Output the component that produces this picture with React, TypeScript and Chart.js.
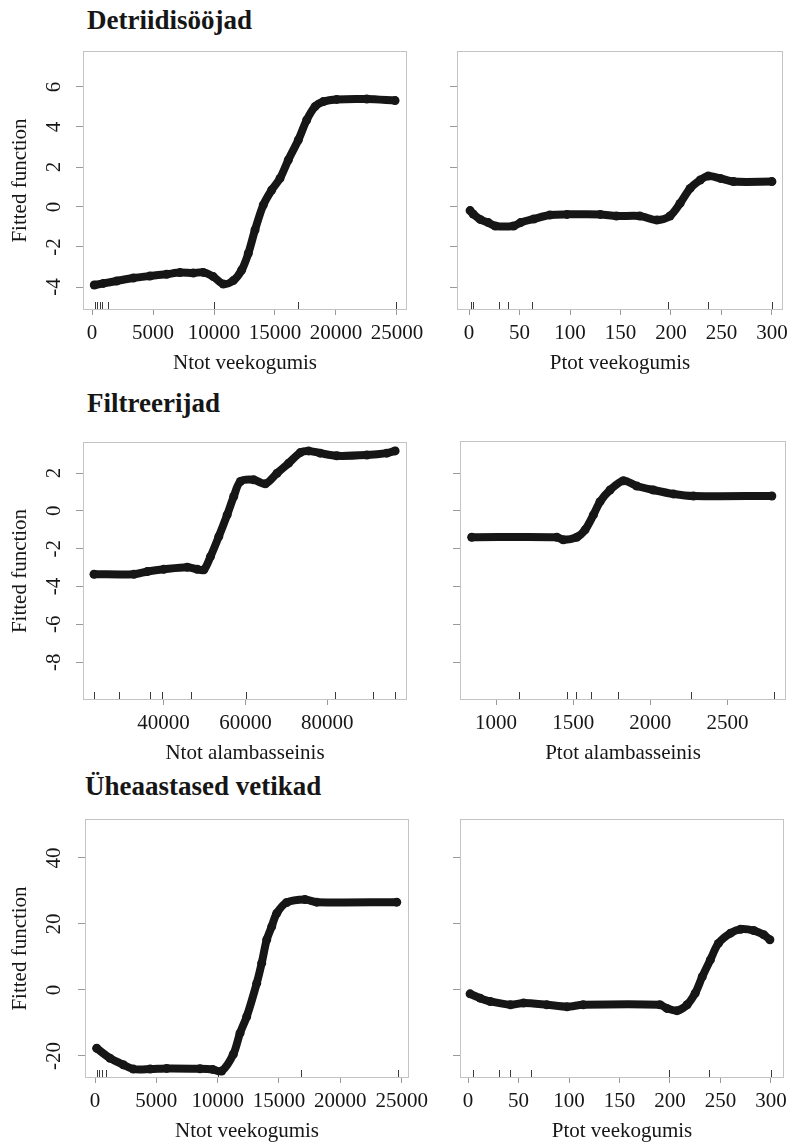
import React, { useEffect, useRef } from "react";
import { Chart, registerables } from "chart.js";

Chart.register(...registerables);

const FONT = '"Liberation Serif", "Times New Roman", Times, serif';
const INK = "#161616";
const BOX = "#c4c4c4";
const TICK = "#9a9a9a";
const RUG = "#3a3a3a";

// ---------- Section titles ----------
const sectionTitles = ["Detriidisööjad", "Filtreerijad", "Üheaastased vetikad"];

// ---------- Axis titles ----------
const yTitle = "Fitted function";
const xTitles = [
  "Ntot veekogumis",
  "Ptot veekogumis",
  "Ntot alambasseinis",
  "Ptot alambasseinis",
  "Ntot veekogumis",
  "Ptot veekogumis",
];

// ---------- Tick values ----------
const ticksNtotVee = [0, 5000, 10000, 15000, 20000, 25000];
const ticksPtotVee = [0, 50, 100, 150, 200, 250, 300];
const ticksNtotAlam = [40000, 60000, 80000];
const ticksPtotAlam = [1000, 1500, 2000, 2500];
const ticksYDetr = [-4, -2, 0, 2, 4, 6];
const ticksYFilt = [-8, -6, -4, -2, 0, 2];
const ticksYVet = [-20, 0, 20, 40];

// ---------- Panel 1: Detriidisööjad ~ Ntot veekogumis ----------
const detNtotX = [190, 930, 2020, 3390, 4750, 6120, 7210, 8300, 9120, 9940, 10760, 11580, 12270, 12810, 13360, 14040, 14730, 15410, 16090, 16910, 17600, 18280, 18960, 20060, 22520, 24840];
const detNtotY = [-3.9, -3.82, -3.7, -3.55, -3.45, -3.36, -3.28, -3.3, -3.27, -3.48, -3.85, -3.68, -3.15, -2.32, -1.15, 0.1, 0.85, 1.43, 2.35, 3.35, 4.35, 5.02, 5.27, 5.38, 5.4, 5.32];
const detNtotRug = [250, 430, 660, 850, 1350, 10000, 16900, 24900];

// ---------- Panel 2: Detriidisööjad ~ Ptot veekogumis ----------
const detPtotX = [1, 4, 11, 19, 26, 44, 51, 64, 80, 97, 130, 146, 169, 186, 199, 209, 219, 229, 237, 249, 262, 300];
const detPtotY = [-0.18, -0.35, -0.62, -0.78, -0.95, -0.95, -0.78, -0.6, -0.4, -0.37, -0.37, -0.45, -0.45, -0.65, -0.45, 0.18, 0.93, 1.35, 1.55, 1.43, 1.27, 1.27];
const detPtotRug = [2, 4, 30, 39, 62, 197, 237, 300];

// ---------- Panel 3: Filtreerijad ~ Ntot alambasseinis ----------
const filNtotX = [23000, 32760, 36020, 40070, 45780, 48220, 49830, 51460, 53490, 55540, 57150, 58780, 62030, 64880, 67730, 70570, 73410, 75440, 78290, 82360, 89680, 94560, 96590];
const filNtotY = [-3.35, -3.35, -3.21, -3.09, -2.98, -3.09, -3.12, -2.42, -1.36, -0.21, 0.76, 1.55, 1.64, 1.43, 1.99, 2.52, 3.08, 3.17, 3.05, 2.91, 2.95, 3.05, 3.17];
const filNtotRug = [23000, 29000, 36700, 39500, 46800, 60200, 82000, 91100, 96500];

// ---------- Panel 4: Filtreerijad ~ Ptot alambasseinis ----------
const filPtotX = [842, 1394, 1436, 1523, 1577, 1631, 1674, 1739, 1826, 1912, 2020, 2150, 2280, 2788];
const filPtotY = [-1.39, -1.39, -1.53, -1.39, -1.0, -0.21, 0.49, 1.11, 1.6, 1.32, 1.11, 0.9, 0.79, 0.79];
const filPtotRug = [1150, 1460, 1520, 1615, 1790, 2265, 2800];

// ---------- Panel 5: Üheaastased vetikad ~ Ntot veekogumis ----------
const vetNtotX = [139, 1223, 2307, 3123, 4500, 5846, 8561, 9600, 10330, 11276, 11822, 12368, 13184, 13590, 13999, 14407, 14815, 15630, 17122, 18076, 24598];
const vetNtotY = [-17.7, -20.7, -22.7, -24.0, -24.0, -23.8, -23.9, -24.1, -24.6, -19.5, -13.1, -8.1, 2.0, 8.1, 15.2, 19.2, 23.2, 26.5, 27.4, 26.6, 26.6];
const vetNtotRug = [150, 350, 560, 880, 10000, 16800, 24700];

// ---------- Panel 6: Üheaastased vetikad ~ Ptot veekogumis ----------
const vetPtotX = [2, 12, 22, 42, 55, 78, 98, 114, 190, 197, 207, 217, 225, 232, 240, 248, 260, 270, 283, 293, 299];
const vetPtotY = [-1.2, -2.5, -3.5, -4.5, -4.0, -4.5, -5.1, -4.5, -4.5, -5.6, -6.3, -4.5, -1.0, 4.0, 9.1, 14.1, 17.2, 18.4, 18.0, 16.7, 15.2];
const vetPtotRug = [5, 31, 42, 62, 199, 239, 300];

type PanelCfg = {
  left: number;
  top: number;
  width: number;
  height: number;
  padTop: number;
  padRight: number;
  yWidth: number;
  xs: number[];
  ys: number[];
  rug: number[];
  xTicks: number[];
  yTicks: number[];
  xMin: number;
  xMax: number;
  yMin: number;
  yMax: number;
  xTitle: string;
  showY: boolean;
};

const panels: PanelCfg[] = [
  { left: 0, top: 40, width: 440, height: 340, padTop: 11, padRight: 33, yWidth: 83, xs: detNtotX, ys: detNtotY, rug: detNtotRug, xTicks: ticksNtotVee, yTicks: ticksYDetr, xMin: -738, xMax: 25820, yMin: -5.15, yMax: 7.8, xTitle: xTitles[0], showY: true },
  { left: 420, top: 40, width: 400, height: 340, padTop: 11, padRight: 37, yWidth: 37, xs: detPtotX, ys: detPtotY, rug: detPtotRug, xTicks: ticksPtotVee, yTicks: ticksYDetr, xMin: -12, xMax: 311, yMin: -5.15, yMax: 7.8, xTitle: xTitles[1], showY: false },
  { left: 0, top: 430, width: 440, height: 340, padTop: 12, padRight: 33, yWidth: 83, xs: filNtotX, ys: filNtotY, rug: filNtotRug, xTicks: ticksNtotAlam, yTicks: ticksYFilt, xMin: 20300, xMax: 99500, yMin: -10.0, yMax: 3.64, xTitle: xTitles[2], showY: true },
  { left: 420, top: 430, width: 400, height: 340, padTop: 11, padRight: 34, yWidth: 40, xs: filPtotX, ys: filPtotY, rug: filPtotRug, xTicks: ticksPtotAlam, yTicks: ticksYFilt, xMin: 766, xMax: 2880, yMin: -10.0, yMax: 3.7, xTitle: xTitles[3], showY: false },
  { left: 0, top: 808, width: 440, height: 340, padTop: 11, padRight: 31, yWidth: 85, xs: vetNtotX, ys: vetNtotY, rug: vetNtotRug, xTicks: ticksNtotVee, yTicks: ticksYVet, xMin: -816, xMax: 25600, yMin: -26.7, yMax: 51.8, xTitle: xTitles[4], showY: true },
  { left: 420, top: 808, width: 400, height: 340, padTop: 11, padRight: 36, yWidth: 40, xs: vetPtotX, ys: vetPtotY, rug: vetPtotRug, xTicks: ticksPtotVee, yTicks: ticksYVet, xMin: -8, xMax: 313, yMin: -26.7, yMax: 51.8, xTitle: xTitles[5], showY: false },
];

const decorPlugin = {
  id: "decor",
  beforeDatasetsDraw(chart: any, _args: any, opts: any) {
    const { ctx, chartArea } = chart;
    ctx.save();
    ctx.strokeStyle = BOX;
    ctx.lineWidth = 1;
    ctx.strokeRect(
      Math.round(chartArea.left) + 0.5,
      Math.round(chartArea.top) + 0.5,
      Math.round(chartArea.right - chartArea.left) - 1,
      Math.round(chartArea.bottom - chartArea.top) - 1
    );
    // rug marks
    const xs = chart.scales.x;
    ctx.strokeStyle = RUG;
    ctx.beginPath();
    (opts.rug || []).forEach((v: number) => {
      const px = Math.round(xs.getPixelForValue(v)) + 0.5;
      ctx.moveTo(px, chartArea.bottom - 1);
      ctx.lineTo(px, chartArea.bottom - 8);
    });
    ctx.stroke();
    ctx.restore();
  },
  afterDraw(chart: any, _args: any, opts: any) {
    if (!opts.showY) return;
    const { ctx } = chart;
    const ys = chart.scales.y;
    ctx.save();
    ctx.fillStyle = INK;
    ctx.font = `21px ${FONT}`;
    ctx.textAlign = "center";
    ctx.textBaseline = "middle";
    (opts.yTicks || []).forEach((v: number) => {
      const py = ys.getPixelForValue(v);
      ctx.save();
      ctx.translate(opts.labelX, py);
      ctx.rotate(-Math.PI / 2);
      ctx.fillText(String(v), 0, 0);
      ctx.restore();
    });
    ctx.restore();
  },
};

function Panel({ cfg }: { cfg: PanelCfg }) {
  const ref = useRef<HTMLCanvasElement | null>(null);
  useEffect(() => {
    if (!ref.current) return;
    const chart = new Chart(ref.current, {
      type: "line",
      data: {
        datasets: [
          {
            data: cfg.xs.map((x, i) => ({ x, y: cfg.ys[i] })),
            borderColor: INK,
            backgroundColor: INK,
            borderWidth: 8,
            borderCapStyle: "round",
            borderJoinStyle: "round",
            pointRadius: 4.5,
            pointBorderWidth: 0,
            pointBackgroundColor: INK,
            tension: 0.3,
            fill: false,
          } as any,
        ],
      },
      options: {
        responsive: false,
        animation: false,
        devicePixelRatio: 1,
        layout: { padding: { left: 0, top: cfg.padTop, right: cfg.padRight, bottom: 2 } },
        plugins: {
          legend: { display: false },
          tooltip: { enabled: false },
          decor: { rug: cfg.rug, showY: cfg.showY, yTicks: cfg.yTicks, labelX: 54 },
        } as any,
        scales: {
          x: {
            type: "linear",
            min: cfg.xMin,
            max: cfg.xMax,
            afterBuildTicks: (s: any) => {
              s.ticks = cfg.xTicks.map((v) => ({ value: v }));
            },
            afterFit: (s: any) => {
              s.height = 68;
            },
            grid: { display: true, drawOnChartArea: false, drawTicks: true, tickLength: 5, color: TICK },
            border: { display: false },
            ticks: {
              autoSkip: false,
              maxRotation: 0,
              minRotation: 0,
              padding: 5.4,
              color: INK,
              font: { family: FONT, size: 21 },
              callback: (v: any) => String(v),
            },
            title: {
              display: true,
              text: cfg.xTitle,
              color: INK,
              font: { family: FONT, size: 21 },
              padding: { top: 0, bottom: 2.4 },
            },
          },
          y: {
            type: "linear",
            min: cfg.yMin,
            max: cfg.yMax,
            afterBuildTicks: (s: any) => {
              s.ticks = cfg.yTicks.map((v) => ({ value: v }));
            },
            afterFit: (s: any) => {
              s.width = cfg.yWidth;
            },
            grid: { display: true, drawOnChartArea: false, drawTicks: true, tickLength: 7, color: TICK },
            border: { display: false },
            ticks: { display: false },
            title: {
              display: cfg.showY,
              text: yTitle,
              color: INK,
              font: { family: FONT, size: 21 },
              padding: { top: 7.4, bottom: 0 },
            },
          },
        },
      },
      plugins: [decorPlugin as any],
    });
    return () => chart.destroy();
  }, [cfg]);
  return (
    <canvas
      ref={ref}
      width={cfg.width}
      height={cfg.height}
      style={{ position: "absolute", left: cfg.left, top: cfg.top, width: cfg.width, height: cfg.height }}
    />
  );
}

const titleTops = [7, 390, 773];
const titleLefts = [87, 87, 85];

export default function App() {
  return (
    <div
      style={{
        position: "absolute",
        left: 0,
        top: 0,
        width: 794,
        height: 1144,
        overflow: "hidden",
        background: "#ffffff",
      }}
    >
      {sectionTitles.map((t, i) => (
        <div
          key={t}
          style={{
            position: "absolute",
            left: titleLefts[i],
            top: titleTops[i],
            fontFamily: FONT,
            fontWeight: "bold",
            fontSize: 27,
            lineHeight: "27px",
            color: INK,
            whiteSpace: "nowrap",
          }}
        >
          {t}
        </div>
      ))}
      {panels.map((p, i) => (
        <Panel key={i} cfg={p} />
      ))}
    </div>
  );
}
